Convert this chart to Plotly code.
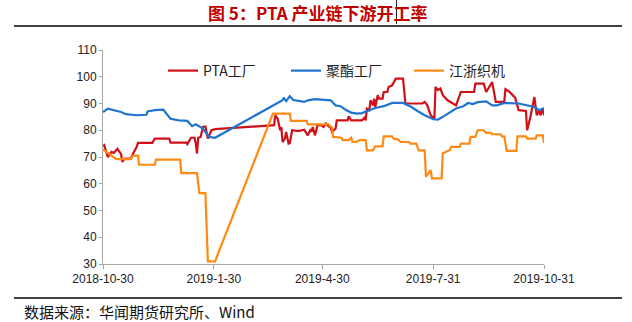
import plotly.graph_objects as go

# PTA工厂 开工率
pta_dates = [
    "2018-10-30", "2018-10-31", "2018-11-03", "2018-11-06", "2018-11-08", "2018-11-11",
    "2018-11-14", "2018-11-15", "2018-11-17", "2018-11-22", "2018-11-24", "2018-11-27",
    "2018-11-28", "2018-12-10", "2018-12-12", "2018-12-24", "2018-12-25", "2019-01-07",
    "2019-01-08", "2019-01-11", "2019-01-14", "2019-01-15", "2019-01-16", "2019-01-17",
    "2019-01-19", "2019-01-21", "2019-01-23", "2019-01-25", "2019-01-28", "2019-01-31",
    "2019-03-21", "2019-03-22", "2019-03-24", "2019-03-25", "2019-03-26", "2019-03-27",
    "2019-03-28", "2019-03-30", "2019-03-31", "2019-04-02", "2019-04-03", "2019-04-05",
    "2019-04-10", "2019-04-15", "2019-04-17", "2019-04-18", "2019-04-20", "2019-04-21",
    "2019-04-22", "2019-04-24", "2019-04-25", "2019-04-26", "2019-04-29", "2019-05-01",
    "2019-05-03", "2019-05-05", "2019-05-07", "2019-05-08", "2019-05-11", "2019-05-12",
    "2019-05-21", "2019-05-22", "2019-05-24", "2019-06-02", "2019-06-04", "2019-06-05",
    "2019-06-06", "2019-06-08", "2019-06-09", "2019-06-11", "2019-06-12", "2019-06-13",
    "2019-06-15", "2019-06-16", "2019-06-19", "2019-06-20", "2019-06-23", "2019-06-24",
    "2019-06-27", "2019-06-30", "2019-07-06", "2019-07-08", "2019-07-22", "2019-07-24",
    "2019-07-25", "2019-07-26", "2019-07-29", "2019-08-01", "2019-08-02", "2019-08-04",
    "2019-08-06", "2019-08-08", "2019-08-12", "2019-08-16", "2019-08-19", "2019-08-23",
    "2019-09-03", "2019-09-04", "2019-09-11", "2019-09-13", "2019-09-17", "2019-09-18",
    "2019-09-21", "2019-09-28", "2019-09-29", "2019-10-02", "2019-10-07", "2019-10-10",
    "2019-10-16", "2019-10-17", "2019-10-20", "2019-10-23", "2019-10-25", "2019-10-27",
    "2019-10-28", "2019-10-30", "2019-10-31",
]
pta_values = [
    74.0, 74.4, 70.0, 71.9, 71.5, 73.1,
    71.1, 68.2, 69.4, 69.4, 71.3, 73.8,
    75.3, 75.3, 76.9, 76.9, 75.4, 75.4,
    74.8, 77.2, 77.2, 75.0, 71.3, 77.2,
    77.5, 81.2, 81.4, 76.9, 80.0, 80.4,
    81.9, 85.6, 84.3, 82.5, 80.0, 81.2,
    75.6, 76.9, 79.4, 75.0, 75.2, 80.0,
    79.7, 80.2, 78.7, 78.1, 80.0, 79.4,
    81.2, 78.1, 80.0, 81.9, 81.9, 81.2,
    82.5, 81.5, 81.0, 79.4, 80.6, 83.7,
    83.7, 85.2, 83.7, 83.7, 84.7, 83.7,
    88.1, 87.5, 91.2, 89.3, 91.8, 88.7,
    93.1, 91.8, 91.8, 94.3, 94.3, 96.2,
    96.8, 99.3, 99.3, 90.0, 90.0, 90.6,
    90.0, 89.5, 85.6, 84.3, 96.2, 95.0,
    95.6, 93.1, 91.2, 90.0, 89.3, 94.3,
    94.3, 97.4, 97.4, 94.3, 97.7, 98.0,
    90.6, 90.6, 95.4, 94.5, 92.2, 87.5,
    87.2, 80.0, 85.6, 92.4, 85.6, 87.5,
    85.6, 88.1, 85.6,
]

# 聚酯工厂 开工率
pet_dates = [
    "2018-10-30", "2018-11-03", "2018-11-14", "2018-11-18", "2018-11-27", "2018-12-05",
    "2018-12-06", "2018-12-12", "2018-12-19", "2018-12-20", "2018-12-25", "2019-01-01",
    "2019-01-08", "2019-01-12", "2019-01-15", "2019-01-21", "2019-01-26", "2019-01-31",
    "2019-03-28", "2019-03-29", "2019-03-31", "2019-04-03", "2019-04-06", "2019-04-15",
    "2019-04-18", "2019-04-24", "2019-05-03", "2019-05-07", "2019-05-11", "2019-05-15",
    "2019-05-20", "2019-05-24", "2019-05-29", "2019-06-02", "2019-06-08", "2019-06-13",
    "2019-06-20", "2019-06-27", "2019-07-06", "2019-07-13", "2019-07-18", "2019-07-24",
    "2019-07-31", "2019-08-04", "2019-08-08", "2019-08-15", "2019-08-19", "2019-08-25",
    "2019-08-29", "2019-09-02", "2019-09-06", "2019-09-13", "2019-09-18", "2019-09-22",
    "2019-09-28", "2019-10-10", "2019-10-16", "2019-10-23", "2019-10-27", "2019-10-31",
]
pet_values = [
    86.8, 88.1, 86.8, 86.0, 85.6, 85.8,
    87.0, 87.5, 87.7, 87.1, 84.3, 83.7,
    83.5, 81.5, 82.2, 80.6, 77.5, 77.2,
    91.2, 92.2, 90.9, 92.7, 91.3, 90.6,
    91.2, 91.6, 91.5, 91.2, 89.3, 89.0,
    87.5, 86.6, 86.2, 86.4, 87.5, 88.3,
    89.0, 90.2, 90.2, 88.7, 87.2, 85.6,
    84.1, 84.0, 85.0, 86.8, 88.1, 89.0,
    90.2, 89.8, 90.5, 90.8, 89.3, 89.3,
    90.2, 90.0, 89.3, 88.7, 87.5, 88.3,
]

# 江浙织机 开工率
loom_dates = [
    "2018-10-30", "2018-11-10", "2018-11-22", "2018-11-24", "2018-11-28", "2018-11-29",
    "2018-12-12", "2018-12-13", "2019-01-02", "2019-01-03", "2019-01-16", "2019-01-18",
    "2019-01-23", "2019-01-25", "2019-01-31", "2019-03-20", "2019-04-03", "2019-04-04",
    "2019-04-17", "2019-04-18", "2019-05-05", "2019-05-07", "2019-05-08", "2019-05-09",
    "2019-05-16", "2019-05-17", "2019-05-22", "2019-05-24", "2019-05-25", "2019-05-28",
    "2019-05-31", "2019-06-05", "2019-06-06", "2019-06-11", "2019-06-13", "2019-06-19",
    "2019-06-20", "2019-06-27", "2019-06-28", "2019-07-02", "2019-07-04", "2019-07-11",
    "2019-07-12", "2019-07-17", "2019-07-19", "2019-07-24", "2019-07-25", "2019-07-29",
    "2019-07-30", "2019-08-07", "2019-08-08", "2019-08-14", "2019-08-15", "2019-08-22",
    "2019-08-23", "2019-08-30", "2019-08-31", "2019-09-04", "2019-09-06", "2019-09-11",
    "2019-09-13", "2019-09-17", "2019-09-18", "2019-09-25", "2019-09-26", "2019-09-28",
    "2019-09-30", "2019-10-08", "2019-10-09", "2019-10-16", "2019-10-17", "2019-10-24",
    "2019-10-25", "2019-10-30", "2019-10-31",
]
loom_values = [
    72.8, 69.2, 69.2, 70.5, 70.5, 67.1,
    67.1, 69.0, 69.0, 64.0, 64.0, 56.5,
    56.5, 31.0, 31.0, 86.2, 86.2, 83.5,
    83.5, 82.2, 82.2, 81.2, 81.0, 77.5,
    77.2, 76.3, 76.3, 77.2, 75.6, 75.6,
    76.3, 76.3, 72.5, 72.5, 74.0, 74.0,
    77.7, 77.7, 76.9, 76.5, 75.6, 75.6,
    75.0, 75.0, 72.5, 72.5, 62.6, 65.1,
    62.0, 62.0, 71.4, 72.6, 73.8, 73.8,
    75.0, 75.0, 77.5, 77.5, 80.0, 80.0,
    79.0, 79.0, 78.5, 78.5, 77.7, 77.7,
    72.3, 72.3, 77.7, 77.7, 76.9, 76.9,
    78.1, 78.1, 75.3,
]

# x-axis tick labels
tick_dates = ["2018-10-30", "2019-01-30", "2019-04-30", "2019-07-31", "2019-10-31"]
tick_text = ["2018-10-30", "2019-1-30", "2019-4-30", "2019-7-31", "2019-10-31"]

series = [
    ("PTA工厂", pta_dates, pta_values, "#D01018"),
    ("聚酯工厂", pet_dates, pet_values, "#1F74D2"),
    ("江浙织机", loom_dates, loom_values, "#FF8A12"),
]

W, H = 632, 322
L, R, T, B = 103, 88, 50, 58
PW, PH = W - L - R, H - T - B


def px_x(px):
    return (px - L) / PW


def px_y(py):
    return (H - B - py) / PH


fig = go.Figure()
for name, xs, ys, color in series:
    fig.add_trace(go.Scatter(
        x=xs, y=ys, name=name, mode="lines",
        line=dict(color=color, width=2.2),
    ))

cjk = "Noto Sans CJK SC"
fig.update_layout(
    width=W, height=H,
    margin=dict(l=L, r=R, t=T, b=B),
    paper_bgcolor="white", plot_bgcolor="white",
    showlegend=True,
    legend=dict(
        orientation="h", x=px_x(163), y=px_y(71), xanchor="left", yanchor="middle",
        font=dict(family=cjk, size=14, color="#222222"),
        bgcolor="rgba(0,0,0,0)", itemwidth=30,
        entrywidth=78, entrywidthmode="pixels",
    ),
    xaxis=dict(
        type="date", range=["2018-10-30", "2019-10-31"],
        tickvals=tick_dates, ticktext=tick_text,
        showgrid=False, zeroline=False,
        showline=True, linecolor="#A6A6A6", linewidth=1,
        ticks="outside", ticklen=4, tickcolor="#A6A6A6",
        tickfont=dict(family="Liberation Sans, Arial", size=12, color="#222222"),
    ),
    yaxis=dict(
        range=[30, 110], tickvals=[30, 40, 50, 60, 70, 80, 90, 100, 110],
        showgrid=False, zeroline=False,
        showline=True, linecolor="#A6A6A6", linewidth=1,
        ticks="outside", ticklen=3, tickcolor="#A6A6A6",
        tickfont=dict(family="Liberation Sans, Arial", size=12, color="#222222"),
    ),
)

# heading, rules and source note
fig.add_annotation(
    text="<b>图 5：PTA 产业链下游开工率</b>", xref="paper", yref="paper",
    x=px_x(318), y=px_y(13), xanchor="center", yanchor="middle", showarrow=False,
    font=dict(family=cjk, size=17, color="#C00000"),
)
fig.add_annotation(
    text="数据来源：华闻期货研究所、Wind", xref="paper", yref="paper",
    x=px_x(22), y=px_y(311), xanchor="left", yanchor="middle", showarrow=False,
    font=dict(family=cjk, size=15, color="#111111"),
)
for py in (26, 298):
    fig.add_shape(type="line", xref="paper", yref="paper",
                  x0=px_x(14), x1=px_x(622), y0=px_y(py), y1=px_y(py),
                  line=dict(color="black", width=1.5))
fig.add_shape(type="line", xref="paper", yref="paper",
              x0=px_x(396.5), x1=px_x(396.5), y0=px_y(0), y1=px_y(24),
              line=dict(color="#222222", width=1))

fig.write_html("out.html")
